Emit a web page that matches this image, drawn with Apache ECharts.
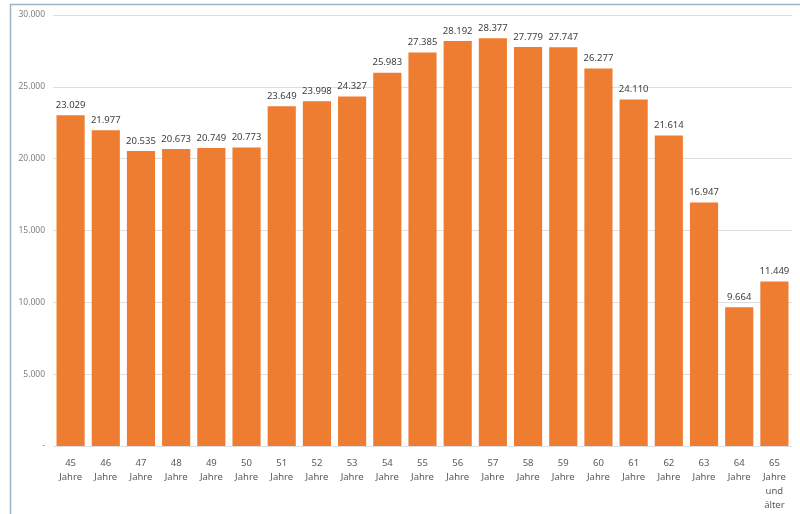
<!DOCTYPE html>
<html>
<head>
<meta charset="utf-8">
<script src="https://cdn.jsdelivr.net/npm/echarts@6/dist/echarts.min.js"></script>
<style>html,body{margin:0;padding:0;background:#fff}#c{width:800px;height:514px}</style>
</head>
<body>
<div id="c"></div>
<script>
var categories = ["45\nJahre","46\nJahre","47\nJahre","48\nJahre","49\nJahre","50\nJahre","51\nJahre","52\nJahre","53\nJahre","54\nJahre","55\nJahre","56\nJahre","57\nJahre","58\nJahre","59\nJahre","60\nJahre","61\nJahre","62\nJahre","63\nJahre","64\nJahre","65\nJahre\nund\nälter"];
var values = [23029,21977,20535,20673,20749,20773,23649,23998,24327,25983,27385,28192,28377,27779,27747,26277,24110,21614,16947,9664,11449];
var yTicks = {min:0, max:30000, interval:5000};

function fmt(v){
  if (v === 0) return '-';
  return String(v).replace(/\B(?=(\d{3})+(?!\d))/g, '.');
}
var chart = echarts.init(document.getElementById('c'), null, {renderer:'canvas'});
chart.setOption({
  animation:false,
  backgroundColor:'#ffffff',
  textStyle:{fontFamily:'Noto Sans'},
  grid:{left:53,right:8,top:15,bottom:68,containLabel:false},
  graphic:[
    {type:'line',shape:{x1:10,y1:4.5,x2:800,y2:4.5},style:{stroke:'#9fb3c8',lineWidth:1.5}},
    {type:'line',shape:{x1:10.5,y1:4,x2:10.5,y2:514},style:{stroke:'#9fb3c8',lineWidth:1.5}}
  ],
  xAxis:{
    type:'category',
    data:categories,
    axisLine:{show:false},
    axisTick:{show:false},
    axisLabel:{color:'#595959',fontSize:9.5,lineHeight:14,margin:10,interval:0}
  },
  yAxis:{
    type:'value',
    min:yTicks.min,max:yTicks.max,interval:yTicks.interval,
    axisLine:{show:false},
    axisTick:{show:false},
    axisLabel:{color:'#7f7f7f',fontSize:8.5,margin:8,formatter:fmt},
    splitLine:{lineStyle:{color:'#dedede',width:1}}
  },
  series:[{
    type:'bar',
    data:values,
    barCategoryGap:'20%',
    itemStyle:{color:'#EE7D31'},
    label:{show:true,position:'top',distance:5,color:'#404040',fontSize:9.5,formatter:function(p){return fmt(p.value);}}
  }]
});
</script>
</body>
</html>
